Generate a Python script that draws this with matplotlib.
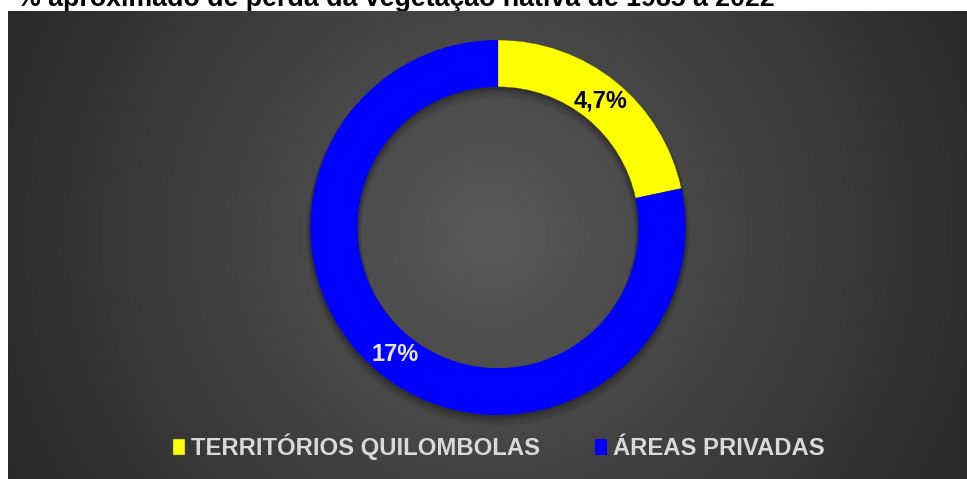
import numpy as np
import matplotlib
matplotlib.use("Agg")
import matplotlib.pyplot as plt

title = "% aproximado de perda da vegetação nativa de 1985 a 2022"
categories = ["TERRITÓRIOS QUILOMBOLAS", "ÁREAS PRIVADAS"]
values = [4.7, 17]
value_labels = ["4,7%", "17%"]
colors = ["#FFFF00", "#0000FF"]
label_colors = ["black", "#E6E6E6"]

plt.rcParams['font.family'] = ['Liberation Sans', 'DejaVu Sans']

W, H = 967, 479
fig = plt.figure(figsize=(W / 100, H / 100), dpi=100)
fig.patch.set_facecolor("white")

# title (partly hidden by the panel, as in the reference)
fig.text(17 / W, 1 - 6 / H, title, fontsize=19.3, fontweight="bold",
         color="black", ha="left", va="baseline", zorder=-5)

# background panel with radial gradient
px0, py0 = 8, 11
bg = fig.add_axes([px0 / W, 0, (W - px0) / W, (H - py0) / H], zorder=0)
pw, ph = W - px0, H - py0
yy, xx = np.mgrid[0:ph, 0:pw]
cx, cy = 490 - px0, 235 - py0
r = np.hypot(xx - cx, yy - cy)
v = np.clip(89 - 0.09 * r, 40, 255) / 255.0
img = np.dstack([v, v, v])
bg.imshow(img, extent=[0, pw, ph, 0], aspect="auto", interpolation="bilinear")
bg.set_xlim(0, pw)
bg.set_ylim(ph, 0)
bg.axis("off")

# donut
ccx, ccy, R = 498, 227.5, 187.5
half = 200
ax = fig.add_axes([(ccx - half) / W, (H - ccy - half) / H, 2 * half / W, 2 * half / H], zorder=2)
ax.set_facecolor("none")
lim = half / R
width = 0.25

# soft shadow
for k, a in zip(range(1, 7), [0.10, 0.09, 0.07, 0.05, 0.04, 0.03]):
    ax.pie([1], radius=1 + 0.004 * k, colors=["black"], startangle=90,
           wedgeprops=dict(width=width + 0.008 * k, alpha=a, linewidth=0),
           center=(0, -0.012 * k / 2))

wedges, _ = ax.pie(values, colors=colors, startangle=90, counterclock=False,
                   radius=1, wedgeprops=dict(width=width, edgecolor="#555500", linewidth=0.3))
wedges[1].set_edgecolor("none")

tot = sum(values)
ang = 90
for val, lab, lc in zip(values, value_labels, label_colors):
    span = 360 * val / tot
    mid = np.deg2rad(ang - span / 2)
    rr = 1 - width / 2 - 0.005
    ax.text(rr * np.cos(mid), rr * np.sin(mid), lab, ha="center", va="center",
            fontsize=17, fontweight="bold", color=lc)
    ang -= span

ax.set_xlim(-lim, lim)
ax.set_ylim(-lim, lim)
ax.set_aspect("equal")
ax.axis("off")

leg = fig.legend(wedges, categories, loc="center", bbox_to_anchor=(499 / W, 1 - 447 / H),
                 ncol=2, frameon=False, fontsize=17.2, handlelength=0.5, handleheight=0.62,
                 handletextpad=0.25, columnspacing=2.3, borderaxespad=0)
for t in leg.get_texts():
    t.set_color("#D9D9D9")
    t.set_fontweight("bold")
leg.set_zorder(5)

fig.savefig("out.png", dpi=100, facecolor=fig.get_facecolor())
